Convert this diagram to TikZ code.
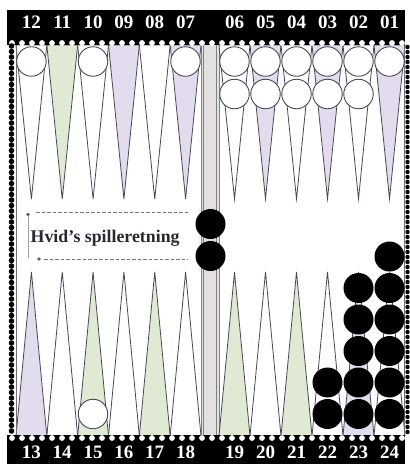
\documentclass[tikz,border=0pt]{standalone}
\usepackage{fontspec}
\setmainfont{Liberation Serif}
\definecolor{lav}{RGB}{226,220,238}
\definecolor{grn}{RGB}{224,233,212}
\definecolor{edge}{RGB}{72,72,84}
\definecolor{barfill}{RGB}{228,224,224}
\definecolor{dashc}{RGB}{120,120,128}
\definecolor{txtc}{RGB}{40,40,50}
\tikzset{
  pt/.style={draw=edge, line width=0.8pt, line join=miter},
  wchk/.style={circle, draw=edge, fill=white, line width=0.9pt, minimum size=29.5pt, inner sep=0pt},
  bchk/.style={circle, fill=black, minimum size=30pt, inner sep=0pt},
  num/.style={text=white, font=\fontsize{19}{20}\selectfont\bfseries, inner sep=0pt},
  dline/.style={draw=dashc, line width=0.9pt, dash pattern=on 3.5pt off 2pt},
}
\begin{document}
\begin{tikzpicture}[x=1pt,y=-1pt]
\useasboundingbox (0,0) rectangle (410,464);
\fill[white] (0,0) rectangle (410,464);
% bar
\fill[barfill] (201,44) rectangle (219,437);
\draw[edge!70, line width=0.6pt] (201,44) -- (201,437) (203.5,44) -- (203.5,437) (216.5,44) -- (216.5,437) (219,44) -- (219,437);
% top left points
\foreach \k/\c/\lab in {0/white/12,1/grn/11,2/white/10,3/lav/09,4/white/08,5/lav/07} {
  \pgfmathsetmacro\xl{16+\k*30.833}
  \draw[pt, fill=\c] (\xl,45) -- (\xl+30.833,45) -- (\xl+15.417,199) -- cycle;
}
% top right points
\foreach \k/\c/\lab in {0/white/06,1/lav/05,2/white/04,3/lav/03,4/white/02,5/lav/01} {
  \pgfmathsetmacro\xl{219+\k*31}
  \draw[pt, fill=\c] (\xl,45) -- (\xl+31,45) -- (\xl+15.5,199) -- cycle;
}
% bottom left points
\foreach \k/\c/\lab in {0/lav/13,1/white/14,2/grn/15,3/white/16,4/grn/17,5/white/18} {
  \pgfmathsetmacro\xl{16+\k*30.833}
  \draw[pt, fill=\c] (\xl,436) -- (\xl+30.833,436) -- (\xl+15.417,272) -- cycle;
}
% bottom right points
\foreach \k/\c/\lab in {0/grn/19,1/white/20,2/grn/21,3/white/22,4/lav/23,5/white/24} {
  \pgfmathsetmacro\xl{219+\k*31}
  \draw[pt, fill=\c] (\xl,436) -- (\xl+31,436) -- (\xl+15.5,272) -- cycle;
}
% board edges
\draw[edge!80, line width=0.7pt] (16,44) -- (16,437) (404,44) -- (404,437);
% top and bottom black bars
\fill[black] (7,10) rectangle (405,45);
\fill[black] (7,435) rectangle (405,464);
\foreach \x in {12,22,...,402} {
  \fill[white] (\x,43) circle (2.9);
  \fill[white] (\x,438) circle (2.9);
}
% left and right bead columns
\foreach \y in {46,51.5,...,435} { \fill[black] (11.5,\y) circle (2.8); }
\foreach \y in {47,52,...,434} { \fill[black] (407.5,\y) circle (2.2); }
% white checkers
\node[wchk] (w12) at (31.4,61.5) {};
\node[wchk] (w10) at (93,61.5) {};
\node[wchk] (w07) at (185.5,61.5) {};
\foreach \x/\n in {234.5/06,265.5/05,296.5/04,327.5/03,358.5/02} {
  \node[wchk] (wa\n) at (\x,61.5) {};
  \node[wchk] (wb\n) at (\x,94) {};
}
\node[wchk] (w01) at (389.5,61.5) {};
\node[wchk] (w15) at (93,414) {};
% black checkers
\node[bchk] (bbar1) at (210.5,224) {};
\node[bchk] (bbar2) at (210.5,256) {};
\foreach \j in {0,1} { \node[bchk] (b22\j) at (327.5,414-\j*31.5) {}; }
\foreach \j in {0,...,4} { \node[bchk] (b23\j) at (358.5,414-\j*31.5) {}; }
\foreach \j in {0,...,5} { \node[bchk] (b24\j) at (389.5,414-\j*31.5) {}; }
% numbers
\foreach \k/\lab in {0/12,1/11,2/10,3/09,4/08,5/07} {
  \node[num] (t\lab) at (31.4+\k*30.833,22) {\lab};
  }
\foreach \k/\lab in {0/06,1/05,2/04,3/03,4/02,5/01} {
  \node[num] (t\lab) at (234.5+\k*31,22) {\lab};
}
\foreach \k/\lab in {0/13,1/14,2/15,3/16,4/17,5/18} {
  \node[num] (t\lab) at (31.4+\k*30.833,452) {\lab};
}
\foreach \k/\lab in {0/19,1/20,2/21,3/22,4/23,5/24} {
  \node[num] (t\lab) at (234.5+\k*31,452) {\lab};
}
% direction label
\coordinate (da) at (28,214.5);
\coordinate (db) at (36,212.5);
\coordinate (dc) at (188,212.5);
\coordinate (dd) at (28,258);
\coordinate (de) at (39,259);
\coordinate (df) at (44,259);
\coordinate (dg) at (188,259);
\draw[dline] (db) -- (dc);
\draw[dline] (df) -- (dg);
\draw[dashc!70, line width=0.5pt] (da) -- (dd);
\fill[dashc!80!black] (da) circle (1.8);
\fill[dashc!80!black] (de) circle (1.8);
\node[anchor=base west, inner sep=0pt, text=txtc, font=\fontsize{17.8}{19}\selectfont\bfseries] (lbl) at (30.5,242) {Hvid’s spilleretning};
\end{tikzpicture}
\end{document}
